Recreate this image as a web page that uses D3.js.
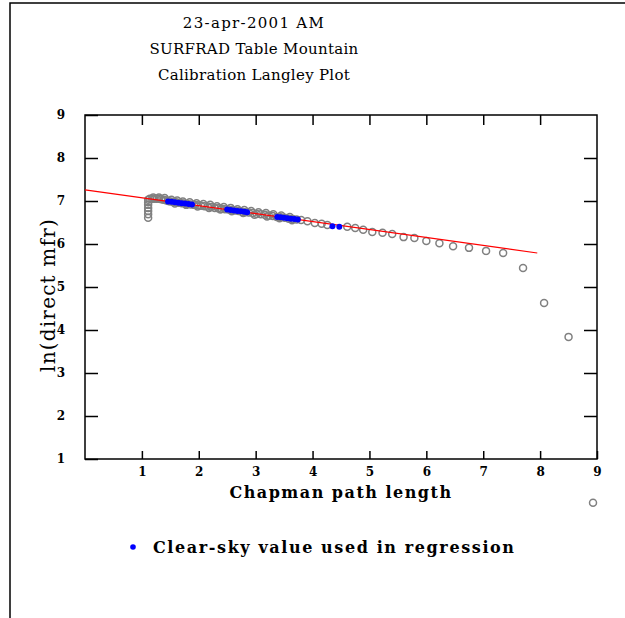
<!DOCTYPE html>
<html>
<head>
<meta charset="utf-8">
<script src="https://cdn.jsdelivr.net/npm/d3@7"></script>
<style>
  body { margin: 0; background: #fff; }
  svg { display: block; }
</style>
</head>
<body>
<div id="chart"></div>
<script>
// chart text
let titleLines = ["23-apr-2001 AM", "SURFRAD Table Mountain", "Calibration Langley Plot"];
let xTitle = "Chapman path length";
let yTitle = "ln(direct mfr)";
let legendText = "Clear-sky value used in regression";

// tick values
let xTicks = [1, 2, 3, 4, 5, 6, 7, 8, 9];
let yTicks = [1, 2, 3, 4, 5, 6, 7, 8, 9];

// all measurements (grey open circles)
let allX = [1.11, 1.11, 1.11, 1.11, 1.11, 1.11, 1.11,
    1.14, 1.18, 1.22, 1.26, 1.30, 1.34, 1.38, 1.42,
    1.46, 1.50, 1.55, 1.60, 1.65, 1.70, 1.75, 1.80, 1.86, 1.92, 1.98,
    2.04, 2.10, 2.16, 2.22, 2.28, 2.34, 2.40, 2.46, 2.52, 2.58, 2.64,
    2.70, 2.76, 2.82, 2.88, 2.95, 3.02, 3.09, 3.16, 3.23, 3.30, 3.37,
    3.44, 3.51, 3.58, 3.65, 3.72, 3.80,
    1.20, 1.30, 1.40, 1.52, 1.62, 1.72, 1.84, 1.96, 2.08, 2.20, 2.32,
    2.44, 2.56, 2.68, 2.80, 2.92, 3.05, 3.18, 3.31, 3.45, 3.60,
    1.58, 1.78, 1.98, 2.18, 2.38, 2.58, 2.78, 2.98, 3.20, 3.42, 3.64,
    3.91, 4.04, 4.16, 4.26, 4.61, 4.75, 4.89, 5.05, 5.23, 5.40, 5.60,
    5.79, 6.00, 6.23, 6.47, 6.75, 7.05, 7.35, 7.70, 8.07, 8.50, 8.93];
let allY = [7.03, 6.97, 6.91, 6.84, 6.77, 6.69, 6.61,
    7.05, 7.05, 7.05, 7.05, 7.05, 7.04, 7.03, 7.02,
    7.00, 6.99, 6.98, 6.97, 6.96, 6.95, 6.94, 6.93, 6.92, 6.91, 6.90,
    6.89, 6.88, 6.87, 6.86, 6.84, 6.83, 6.82, 6.81, 6.80, 6.79, 6.78,
    6.77, 6.75, 6.74, 6.73, 6.72, 6.70, 6.69, 6.68, 6.66, 6.65, 6.63,
    6.62, 6.61, 6.59, 6.58, 6.57, 6.56,
    7.08, 7.08, 7.07, 7.03, 7.01, 6.99, 6.97, 6.95, 6.93, 6.91, 6.88,
    6.86, 6.84, 6.81, 6.79, 6.77, 6.74, 6.72, 6.69, 6.66, 6.63,
    6.94, 6.91, 6.87, 6.84, 6.80, 6.76, 6.72, 6.68, 6.64, 6.60, 6.55,
    6.53, 6.49, 6.47, 6.44, 6.40, 6.37, 6.33, 6.28, 6.26, 6.23, 6.16,
    6.14, 6.07, 6.02, 5.95, 5.91, 5.84, 5.79, 5.44, 4.63, 3.84, -0.02];

// clear-sky values used in the regression (blue dots)
let clearX = [1.46, 1.52, 1.58, 1.64, 1.70, 1.76, 1.82, 1.88,
    2.50, 2.56, 2.62, 2.68, 2.74, 2.80, 2.85,
    3.38, 3.44, 3.50, 3.56, 3.62, 3.68, 3.74,
    4.35, 4.47];
let clearY = [6.99, 6.98, 6.97, 6.96, 6.95, 6.94, 6.93, 6.92,
    6.80, 6.79, 6.78, 6.77, 6.76, 6.75, 6.74,
    6.63, 6.62, 6.61, 6.60, 6.59, 6.58, 6.57,
    6.41, 6.40];

// regression line end points
let fitX = [0, 7.95];
let fitY = [7.26, 5.79];

let width = 625;
let height = 618;
let pLeft = 85, pRight = 597, pTop = 115, pBottom = 459;

let svg = d3.select("#chart")
    .append("svg")
    .attr("width", width)
    .attr("height", height);

// outer frame
svg.append("rect")
    .attr("x", 10)
    .attr("y", 3)
    .attr("width", 700)
    .attr("height", 700)
    .attr("fill", "none")
    .attr("stroke", "#000")
    .attr("stroke-width", 1.5);

let x = d3.scaleLinear().domain([0, 9]).range([pLeft, pRight]);
let y = d3.scaleLinear().domain([1, 9]).range([pBottom, pTop]);

// title
svg.selectAll(".title")
    .data(titleLines)
    .enter().append("text")
    .attr("class", "title")
    .attr("x", 254)
    .attr("y", function(d, i) { return 28 + i * 26; })
    .attr("text-anchor", "middle")
    .style("font-family", "DejaVu Serif")
    .style("font-size", "15px")
    .style("letter-spacing", function(d, i) { return i == 0 ? "1.3px" : "0.3px"; })
    .text(function(d) { return d; });

// axes, ticks pointing inward
let xAxisBottom = d3.axisBottom(x).tickValues(xTicks).tickSizeInner(-8).tickSizeOuter(0).tickPadding(8);
let xAxisTop = d3.axisTop(x).tickValues(xTicks.slice(0, 8)).tickSizeInner(-10).tickSizeOuter(0).tickFormat("");
let yAxisLeft = d3.axisLeft(y).tickValues(yTicks).tickSizeInner(-13).tickSizeOuter(0).tickPadding(24);
let yAxisRight = d3.axisRight(y).tickValues(yTicks.slice(1, 8)).tickSizeInner(-13).tickSizeOuter(0).tickFormat("");

function styleAxis(g) {
    g.select(".domain").remove();
    g.selectAll(".tick line").attr("stroke", "#000").attr("stroke-width", 1.5);
    g.selectAll(".tick text")
        .attr("fill", "#000")
        .style("font-family", "DejaVu Serif")
        .style("font-weight", "bold")
        .style("font-size", "12px");
}

svg.append("g").attr("transform", "translate(0," + pBottom + ")").call(xAxisBottom).call(styleAxis);
svg.append("g").attr("transform", "translate(0," + pTop + ")").call(xAxisTop).call(styleAxis);
svg.append("g").attr("transform", "translate(" + pLeft + ",0)").call(yAxisLeft).call(styleAxis)
    .selectAll(".tick text").attr("text-anchor", "middle");
svg.append("g").attr("transform", "translate(" + pRight + ",0)").call(yAxisRight).call(styleAxis);

// plot box
svg.append("rect")
    .attr("x", pLeft)
    .attr("y", pTop)
    .attr("width", pRight - pLeft)
    .attr("height", pBottom - pTop)
    .attr("fill", "none")
    .attr("stroke", "#000")
    .attr("stroke-width", 1.5);

// axis titles
svg.append("text")
    .attr("x", (pLeft + pRight) / 2)
    .attr("y", 498)
    .attr("text-anchor", "middle")
    .style("font-family", "DejaVu Serif")
    .style("font-weight", "bold")
    .style("font-size", "16px")
    .style("letter-spacing", "1.5px")
    .text(xTitle);

svg.append("text")
    .attr("transform", "translate(55," + ((pTop + pBottom) / 2 + 8) + ") rotate(-90)")
    .attr("text-anchor", "middle")
    .style("font-family", "DejaVu Serif")
    .style("font-size", "20px")
    .style("letter-spacing", "1.2px")
    .text(yTitle);

// grey points
let allData = allX.map(function(d, i) { return { x: d, y: allY[i] }; });
svg.append("g").selectAll("circle")
    .data(allData)
    .enter().append("circle")
    .attr("cx", function(d) { return x(d.x); })
    .attr("cy", function(d) { return y(d.y); })
    .attr("r", 3.5)
    .attr("fill", "none")
    .attr("stroke", "#808080")
    .attr("stroke-width", 1.5);

// regression line
let fitData = fitX.map(function(d, i) { return { x: d, y: fitY[i] }; });
svg.append("path")
    .datum(fitData)
    .attr("d", d3.line().x(function(d) { return x(d.x); }).y(function(d) { return y(d.y); }))
    .attr("fill", "none")
    .attr("stroke", "#ff0000")
    .attr("stroke-width", 1.2);

// clear-sky points
let clearData = clearX.map(function(d, i) { return { x: d, y: clearY[i] }; });
svg.append("g").selectAll("circle")
    .data(clearData)
    .enter().append("circle")
    .attr("cx", function(d) { return x(d.x); })
    .attr("cy", function(d) { return y(d.y); })
    .attr("r", 3)
    .attr("fill", "#0000ff");

// legend
svg.append("circle")
    .attr("cx", 133)
    .attr("cy", 547)
    .attr("r", 2.8)
    .attr("fill", "#0000ff");

svg.append("text")
    .attr("x", 153)
    .attr("y", 553)
    .style("font-family", "DejaVu Serif")
    .style("font-weight", "bold")
    .style("font-size", "16px")
    .style("letter-spacing", "1.6px")
    .text(legendText);
</script>
</body>
</html>
